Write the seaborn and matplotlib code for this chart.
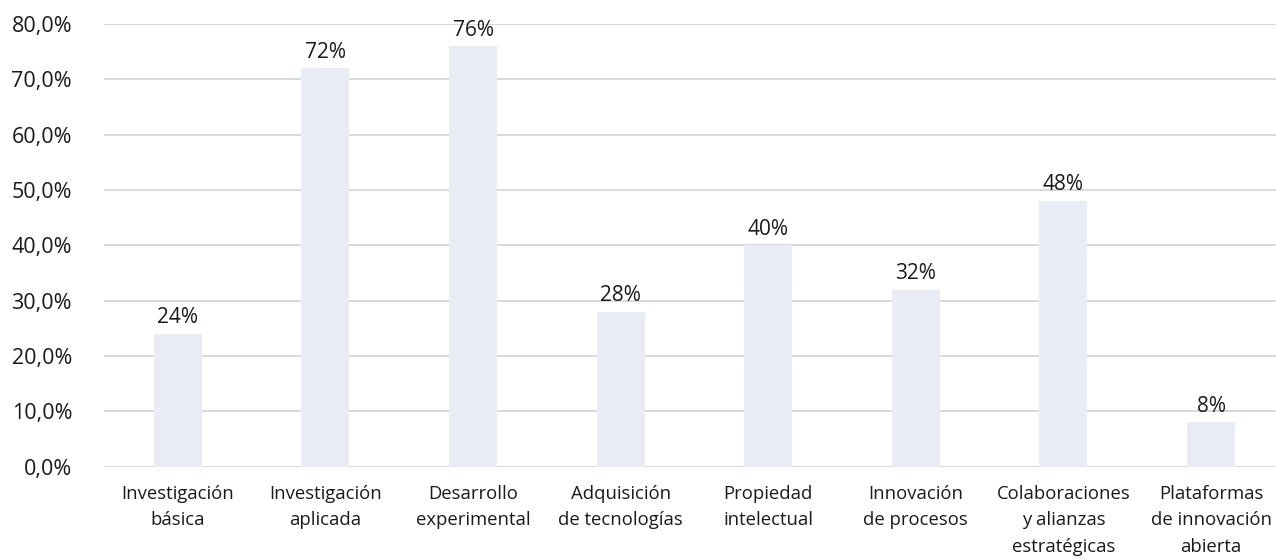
import numpy as np
import pandas as pd
import matplotlib
matplotlib.use("Agg")
import matplotlib.pyplot as plt
import seaborn as sns

# Data
categories = [
    "Investigación\nbásica",
    "Investigación\naplicada",
    "Desarrollo\nexperimental",
    "Adquisición\nde tecnologías",
    "Propiedad\nintelectual",
    "Innovación\nde procesos",
    "Colaboraciones\ny alianzas\nestratégicas",
    "Plataformas\nde innovación\nabierta",
]
values = [24, 72, 76, 28, 40, 32, 48, 8]
y_ticks = [0, 10, 20, 30, 40, 50, 60, 70, 80]
y_tick_labels = [f"{t},0%" for t in y_ticks]

BAR_COLOR = "#E9ECF5"
GRID_COLOR = "#D9D9D9"
TEXT_COLOR = "#1a1a1a"

sns.set_theme(style="white")
plt.rcParams["font.family"] = ["Open Sans", "DejaVu Sans"]

df = pd.DataFrame({"cat": categories, "val": values})

W, H = 1276, 559
fig = plt.figure(figsize=(W / 100, H / 100), dpi=100)
left, right, top, bottom = 104, 1276, 24, 466.5
ax = fig.add_axes([left / W, (H - bottom) / H, (right - left) / W, (bottom - top) / H])

sns.barplot(data=df, x="cat", y="val", color=BAR_COLOR, width=0.325,
            saturation=1, linewidth=0, edgecolor="none", ax=ax, zorder=2)

ax.set_ylim(0, 80)
ax.set_xlim(-0.5, 7.44)
ax.set_yticks(y_ticks)
ax.set_yticklabels(y_tick_labels, fontsize=15.5, color=TEXT_COLOR)
ax.tick_params(axis="y", length=0, pad=23)
ax.tick_params(axis="x", length=0, pad=13)
for lbl in ax.get_xticklabels():
    lbl.set_fontsize(13.3)
    lbl.set_color(TEXT_COLOR)
    lbl.set_linespacing(1.62)
    lbl.set_verticalalignment("top")
ax.set_xlabel("")
ax.set_ylabel("")

ax.grid(axis="y", color=GRID_COLOR, linewidth=1.4, zorder=0)
ax.set_axisbelow(True)
for s in ax.spines.values():
    s.set_visible(False)

for i, v in enumerate(values):
    ax.text(i, v + 1.0, f"{v}%", ha="center", va="bottom",
            fontsize=15, color=TEXT_COLOR)

fig.savefig("out.png", dpi=100)
